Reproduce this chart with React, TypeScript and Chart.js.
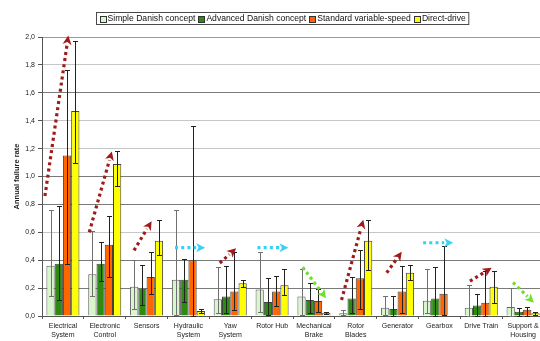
import React, { useEffect, useRef } from "react";
import { Chart, registerables } from "chart.js";

Chart.register(...registerables);

const FONT = '"Liberation Sans", Arial, sans-serif';

const categories: string[][] = [
  ["Electrical", "System"],
  ["Electronic", "Control"],
  ["Sensors"],
  ["Hydraulic", "System"],
  ["Yaw", "System"],
  ["Rotor Hub"],
  ["Mechanical", "Brake"],
  ["Rotor", "Blades"],
  ["Generator"],
  ["Gearbox"],
  ["Drive Train"],
  ["Support &", "Housing"],
];

const seriesNames = [
  "Simple Danish concept",
  "Advanced Danish concept",
  "Standard variable-speed",
  "Direct-drive",
];

const simpleDanish = [0.36, 0.3, 0.21, 0.26, 0.12, 0.19, 0.14, 0.02, 0.06, 0.11, 0.06, 0.065];
const advancedDanish = [0.375, 0.375, 0.195, 0.26, 0.14, 0.1, 0.115, 0.125, 0.05, 0.125, 0.075, 0.03];
const standardVariable = [1.15, 0.51, 0.28, 0.4, 0.175, 0.175, 0.107, 0.27, 0.175, 0.16, 0.095, 0.045];
const directDrive = [1.47, 1.09, 0.54, 0.035, 0.235, 0.22, 0.024, 0.54, 0.31, null, 0.21, 0.02];

const simpleLow = [0.14, 0.14, 0.05, 0.01, 0.02, 0.03, 0.007, 0.007, 0.007, 0.02, 0.0, 0.0];
const simpleHigh = [0.76, 0.61, 0.4, 0.76, 0.35, 0.46, 0.335, 0.04, 0.145, 0.335, 0.225, 0.2];
const advancedLow = [0.115, 0.25, 0.08, 0.1, 0.02, 0.01, 0.02, 0.02, 0.0, 0.0, 0.0, 0.0];
const advancedHigh = [0.79, 0.53, 0.365, 0.41, 0.36, 0.27, 0.24, 0.28, 0.145, 0.35, 0.155, 0.06];
const standardLow = [0.37, 0.28, 0.155, 0.0, 0.04, 0.07, 0.03, 0.05, 0.02, 0.01, 0.0, 0.0];
const standardHigh = [1.76, 0.72, 0.46, 1.36, 0.46, 0.29, 0.19, 0.47, 0.36, 0.5, 0.32, 0.065];
const directLow = [1.1, 0.93, 0.44, 0.02, 0.205, 0.15, 0.015, 0.33, 0.26, null, 0.09, 0.01];
const directHigh = [1.97, 1.18, 0.69, 0.05, 0.26, 0.34, 0.03, 0.69, 0.365, null, 0.325, 0.03];

const yTicks = [0, 0.2, 0.4, 0.6, 0.8, 1.0, 1.2, 1.4, 1.6, 1.8, 2.0];

// trend arrows: category index, offset within category (in category widths), value
const arrowCategory = [0, 1, 2, 3, 4, 5, 6, 7, 8, 9, 10, 11];
const arrowStartOffset = [-0.43, -0.37, -0.3, -0.32, -0.25, -0.35, -0.27, -0.34, -0.26, -0.39, -0.27, -0.24];
const arrowEndOffset = [0.13, 0.17, 0.12, 0.4, 0.14, 0.39, 0.29, 0.18, 0.1, 0.33, 0.25, 0.26];
const arrowStartValue = [0.86, 0.6, 0.47, 0.49, 0.38, 0.49, 0.35, 0.115, 0.31, 0.525, 0.25, 0.24];
const arrowEndValue = [2.01, 1.18, 0.68, 0.49, 0.485, 0.49, 0.127, 0.69, 0.46, 0.525, 0.345, 0.095];
const arrowTrend = ["up", "up", "up", "flat", "up", "flat", "down", "up", "up", "flat", "up", "down"];

const trendColors: Record<string, string> = {
  up: "#a01a1a",
  flat: "#38d0f5",
  down: "#6fe02a",
};

const errorBarPlugin = {
  id: "errorBars",
  afterDatasetsDraw(chart: any) {
    const ctx = chart.ctx;
    const y = chart.scales.y;
    chart.data.datasets.forEach((ds: any, di: number) => {
      const meta = chart.getDatasetMeta(di);
      meta.data.forEach((bar: any, i: number) => {
        const lo = ds.errLow[i];
        const hi = ds.errHigh[i];
        if (lo == null || hi == null) return;
        const x = Math.round(bar.x) + 0.5;
        const yl = Math.round(y.getPixelForValue(lo)) + 0.5;
        const yh = Math.round(y.getPixelForValue(hi)) + 0.5;
        ctx.save();
        ctx.strokeStyle = ds.errColor;
        ctx.lineWidth = 1;
        ctx.beginPath();
        ctx.moveTo(x, yl);
        ctx.lineTo(x, yh);
        ctx.moveTo(x - 2.5, yh);
        ctx.lineTo(x + 2.5, yh);
        ctx.moveTo(x - 2.5, yl);
        ctx.lineTo(x + 2.5, yl);
        ctx.stroke();
        ctx.restore();
      });
    });
  },
};

const arrowPlugin = {
  id: "trendArrows",
  afterDatasetsDraw(chart: any) {
    const ctx = chart.ctx;
    const xs = chart.scales.x;
    const ys = chart.scales.y;
    const catW = xs.getPixelForValue(1) - xs.getPixelForValue(0);
    arrowCategory.forEach((c, i) => {
      const center = xs.getPixelForValue(c);
      const x0 = center + arrowStartOffset[i] * catW;
      const x1 = center + arrowEndOffset[i] * catW;
      const y0 = ys.getPixelForValue(arrowStartValue[i]);
      const y1 = ys.getPixelForValue(arrowEndValue[i]);
      const color = trendColors[arrowTrend[i]];
      const dx = x1 - x0;
      const dy = y1 - y0;
      const len = Math.sqrt(dx * dx + dy * dy);
      const ux = dx / len;
      const uy = dy / len;
      const headLen = 9;
      const headHalf = 4.5;
      const bx = x1 - ux * headLen;
      const by = y1 - uy * headLen;
      ctx.save();
      ctx.strokeStyle = color;
      ctx.fillStyle = color;
      ctx.lineWidth = 3.2;
      ctx.lineCap = "butt";
      ctx.setLineDash([3, 3.2]);
      ctx.beginPath();
      ctx.moveTo(x0, y0);
      ctx.lineTo(bx, by);
      ctx.stroke();
      ctx.setLineDash([]);
      ctx.beginPath();
      ctx.moveTo(x1, y1);
      ctx.lineTo(bx - uy * headHalf, by + ux * headHalf);
      ctx.lineTo(bx + ux * 2.5, by + uy * 2.5);
      ctx.lineTo(bx + uy * headHalf, by - ux * headHalf);
      ctx.closePath();
      ctx.fill();
      ctx.restore();
    });
  },
};

const boxLegendPlugin = {
  id: "boxLegend",
  afterDraw(chart: any) {
    const ctx = chart.ctx;
    ctx.save();
    ctx.font = `8.6px ${FONT}`;
    const box = 6;
    const gapBox = 2;
    const gapItem = 3;
    const padX = 3;
    const items = chart.data.datasets.map((ds: any) => ({
      label: ds.label,
      fill: ds.backgroundColor,
      stroke: ds.borderColor,
      w: ctx.measureText(ds.label).width,
    }));
    let total = padX * 2;
    items.forEach((it: any, i: number) => {
      total += box + gapBox + it.w + (i > 0 ? gapItem : 0);
    });
    const cx = 282.5;
    const left = Math.round(cx - total / 2) + 0.5;
    const top = 12.5;
    const h = 12;
    ctx.fillStyle = "#ffffff";
    ctx.fillRect(left, top, total, h);
    ctx.strokeStyle = "#4a4a4a";
    ctx.lineWidth = 1;
    ctx.strokeRect(left, top, total, h);
    let x = left + padX;
    const cy = top + h / 2;
    items.forEach((it: any, i: number) => {
      if (i > 0) x += gapItem;
      ctx.fillStyle = it.fill;
      ctx.fillRect(Math.round(x) + 0.5, Math.round(cy - box / 2) + 0.5, box, box);
      ctx.strokeStyle = "#333";
      ctx.strokeRect(Math.round(x) + 0.5, Math.round(cy - box / 2) + 0.5, box, box);
      x += box + gapBox;
      ctx.fillStyle = "#111";
      ctx.textBaseline = "middle";
      ctx.textAlign = "left";
      ctx.fillText(it.label, x, cy + 0.5);
      x += it.w;
    });
    ctx.restore();
  },
};

export default function App() {
  const canvasRef = useRef<HTMLCanvasElement | null>(null);

  useEffect(() => {
    if (!canvasRef.current) return;
    const darkGrid = [0.2, 0.4, 0.8, 1.0, 1.6];
    const chart = new Chart(canvasRef.current, {
      type: "bar",
      data: {
        labels: categories,
        datasets: [
          {
            label: seriesNames[0],
            data: simpleDanish,
            backgroundColor: "#d8f5cc",
            borderColor: "#606060",
            borderWidth: 1,
            errLow: simpleLow,
            errHigh: simpleHigh,
            errColor: "#707070",
          } as any,
          {
            label: seriesNames[1],
            data: advancedDanish,
            backgroundColor: "#2e8a10",
            borderColor: "#404040",
            borderWidth: 1,
            errLow: advancedLow,
            errHigh: advancedHigh,
            errColor: "#222222",
          } as any,
          {
            label: seriesNames[2],
            data: standardVariable,
            backgroundColor: "#ff6600",
            borderColor: "#404040",
            borderWidth: 1,
            errLow: standardLow,
            errHigh: standardHigh,
            errColor: "#222222",
          } as any,
          {
            label: seriesNames[3],
            data: directDrive,
            backgroundColor: "#ffff00",
            borderColor: "#404040",
            borderWidth: 1,
            errLow: directLow,
            errHigh: directHigh,
            errColor: "#222222",
          } as any,
        ],
      },
      options: {
        responsive: false,
        animation: false,
        devicePixelRatio: 1,
        layout: { padding: { top: 37, right: 0, bottom: 0, left: 0 } },
        datasets: { bar: { categoryPercentage: 0.79, barPercentage: 1, skipNull: false } as any },
        plugins: {
          legend: { display: false },
          tooltip: { enabled: false },
        },
        scales: {
          x: {
            type: "category",
            offset: true,
            grid: {
              display: true,
              drawOnChartArea: false,
              drawTicks: true,
              tickLength: 3,
              offset: true,
              color: "#555",
            },
            border: { display: true, color: "#555" },
            ticks: {
              font: { family: FONT, size: 7, lineHeight: 1.35 },
              color: "#222",
              padding: 2,
              maxRotation: 0,
              minRotation: 0,
              autoSkip: false,
            },
            afterFit: (s: any) => {
              s.height = 25;
            },
          },
          y: {
            min: 0,
            max: 2,
            afterBuildTicks: (s: any) => {
              s.ticks = yTicks.map((v) => ({ value: v }));
            },
            ticks: {
              callback: (v: any) => Number(v).toFixed(1).replace(".", ","),
              font: { family: FONT, size: 7 },
              color: "#222",
              padding: 3,
            },
            grid: {
              color: (c: any) => {
                const v = c.tick ? Math.round(c.tick.value * 10) / 10 : 0;
                if (v === 0) return "#555";
                if (v === 2) return "#9a9a9a";
                return darkGrid.includes(v) ? "#7a7a7a" : "#c6c6c6";
              },
              tickColor: "#555",
              tickLength: 4,
              lineWidth: 1,
            },
            border: { display: true, color: "#555" },
            title: {
              display: true,
              text: "Annual failure rate",
              font: { family: FONT, size: 7.5, weight: "bold" },
              color: "#222",
              padding: { top: 12, bottom: 0 },
            },
            afterFit: (s: any) => {
              s.width = 42;
            },
          },
        },
      } as any,
      plugins: [errorBarPlugin, arrowPlugin, boxLegendPlugin],
    });
    return () => chart.destroy();
  }, []);

  return (
    <div
      style={{
        position: "fixed",
        left: 0,
        top: 0,
        width: 540,
        height: 341,
        overflow: "hidden",
        background: "#ffffff",
      }}
    >
      <canvas ref={canvasRef} width={544} height={341} style={{ display: "block" }} />
    </div>
  );
}
